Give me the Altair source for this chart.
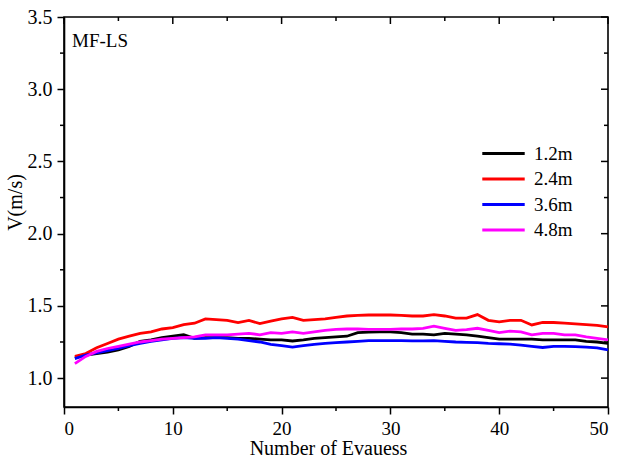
import altair as alt
import pandas as pd

# ---- data ----
x_vals = list(range(1, 51))
v_12 = [1.14, 1.16, 1.17, 1.18, 1.195, 1.22, 1.255, 1.265, 1.28, 1.29,
        1.30, 1.275, 1.28, 1.28, 1.28, 1.275, 1.275, 1.27, 1.265, 1.265,
        1.257, 1.265, 1.275, 1.28, 1.285, 1.29, 1.315, 1.318, 1.32, 1.32,
        1.315, 1.305, 1.305, 1.30, 1.31, 1.305, 1.30, 1.29, 1.28, 1.27,
        1.27, 1.27, 1.27, 1.265, 1.265, 1.265, 1.265, 1.255, 1.25, 1.24]
v_24 = [1.15, 1.17, 1.21, 1.24, 1.27, 1.29, 1.31, 1.32, 1.34, 1.35,
        1.37, 1.38, 1.41, 1.405, 1.40, 1.385, 1.40, 1.377, 1.395, 1.41,
        1.42, 1.40, 1.405, 1.41, 1.42, 1.43, 1.435, 1.437, 1.437, 1.437,
        1.435, 1.43, 1.43, 1.44, 1.43, 1.415, 1.415, 1.44, 1.40, 1.39,
        1.40, 1.40, 1.368, 1.385, 1.385, 1.38, 1.375, 1.37, 1.365, 1.355]
v_36 = [1.135, 1.16, 1.175, 1.19, 1.205, 1.225, 1.24, 1.255, 1.265, 1.275,
        1.28, 1.275, 1.275, 1.28, 1.275, 1.27, 1.26, 1.25, 1.234, 1.225,
        1.215, 1.225, 1.234, 1.24, 1.245, 1.25, 1.255, 1.26, 1.26, 1.26,
        1.26, 1.258, 1.258, 1.26, 1.255, 1.25, 1.248, 1.245, 1.24, 1.238,
        1.235, 1.228, 1.22, 1.212, 1.22, 1.22, 1.218, 1.215, 1.21, 1.195]
v_48 = [1.10, 1.15, 1.185, 1.205, 1.22, 1.235, 1.25, 1.26, 1.27, 1.275,
        1.28, 1.285, 1.30, 1.30, 1.30, 1.305, 1.31, 1.30, 1.315, 1.31,
        1.32, 1.31, 1.32, 1.33, 1.338, 1.34, 1.34, 1.338, 1.338, 1.338,
        1.34, 1.34, 1.345, 1.36, 1.345, 1.33, 1.335, 1.345, 1.33, 1.315,
        1.325, 1.32, 1.30, 1.31, 1.31, 1.30, 1.30, 1.285, 1.275, 1.265]
series_names = ["1.2m", "2.4m", "3.6m", "4.8m"]
series_colors = ["#000000", "#ff0000", "#0000ff", "#ff00ff"]

x_major = [0, 10, 20, 30, 40, 50]
x_minor = [5, 15, 25, 35, 45]
y_major = [1.0, 1.5, 2.0, 2.5, 3.0, 3.5]
y_minor = [1.25, 1.75, 2.25, 2.75, 3.25]

FONT = "Liberation Serif"
W, H = 544, 390

rows = []
for name, vals in zip(series_names, [v_12, v_24, v_36, v_48]):
    for xv, yv in zip(x_vals, vals):
        rows.append({"n": xv, "v": yv, "s": name})
df = pd.DataFrame(rows)

xs = alt.Scale(domain=[0, 50], nice=False)
ys = alt.Scale(domain=[0.8, 3.5], nice=False, zero=False)

lines = alt.Chart(df).mark_line(strokeWidth=2.8).encode(
    x=alt.X("n:Q", scale=xs, title="Number of Evauess",
            axis=alt.Axis(values=x_major, format="d", ticks=True, tickSize=7,
                          tickWidth=1.5, tickColor="black",
                          domainWidth=1.6, domainColor="black",
                          labelFont=FONT, labelFontSize=19, labelColor="black",
                          labelPadding=5, titleFont=FONT, titleFontSize=20,
                          titleFontWeight="normal", titleColor="black",
                          titleX=264, titleY=47, titleBaseline="alphabetic",
                          grid=False)),
    y=alt.Y("v:Q", scale=ys, title="V(m/s)",
            axis=alt.Axis(values=y_major, format=".1f", ticks=True, tickSize=7,
                          tickWidth=1.5, tickColor="black",
                          domainWidth=1.6, domainColor="black",
                          labelFont=FONT, labelFontSize=20, labelColor="black",
                          labelPadding=5, titleFont=FONT, titleFontSize=20,
                          titleFontWeight="normal", titleColor="black",
                          titleX=-49, titleY=185, titleBaseline="middle",
                          grid=False)),
    color=alt.Color("s:N", scale=alt.Scale(domain=series_names, range=series_colors),
                    legend=alt.Legend(title=None, orient="none", legendX=427, legendY=124,
                                      symbolType="M-2,0L2,0", symbolStrokeWidth=3,
                                      symbolSize=450, labelFont=FONT, labelFontSize=19,
                                      labelColor="black", labelOffset=18, rowPadding=2.5)),
)

xmin_df = pd.DataFrame({"t": x_minor})
xmaj_df = pd.DataFrame({"t": x_major})
ymin_df = pd.DataFrame({"t": y_minor})
ymaj_df = pd.DataFrame({"t": y_major})

def xtick(d, y_a, y_b):
    return alt.Chart(d).mark_rule(color="black", strokeWidth=1.5, clip=False).encode(
        x=alt.X("t:Q", scale=xs), y=alt.value(y_a), y2=alt.value(y_b))

def ytick(d, x_a, x_b):
    return alt.Chart(d).mark_rule(color="black", strokeWidth=1.5, clip=False).encode(
        y=alt.Y("t:Q", scale=ys), x=alt.value(x_a), x2=alt.value(x_b))

ticks = [
    xtick(xmin_df, H, H + 4),
    xtick(xmaj_df, 0, 7), xtick(xmin_df, 0, 4),
    ytick(ymin_df, -4, 0),
    ytick(ymaj_df, W - 7, W), ytick(ymin_df, W - 4, W),
]

label = alt.Chart(pd.DataFrame({"t": ["MF-LS"]})).mark_text(
    font=FONT, fontSize=19, color="black", align="left", baseline="alphabetic"
).encode(text="t:N", x=alt.value(8), y=alt.value(30))

chart = alt.layer(lines, *ticks, label).properties(
    width=W, height=H,
    autosize=alt.AutoSizeParams(type="none"),
    padding={"left": 64, "top": 17, "right": 11, "bottom": 53},
    background="white",
).configure_view(stroke="black", strokeWidth=1.6)

chart.save("out.html", embed_options={"renderer": "svg", "actions": False})
